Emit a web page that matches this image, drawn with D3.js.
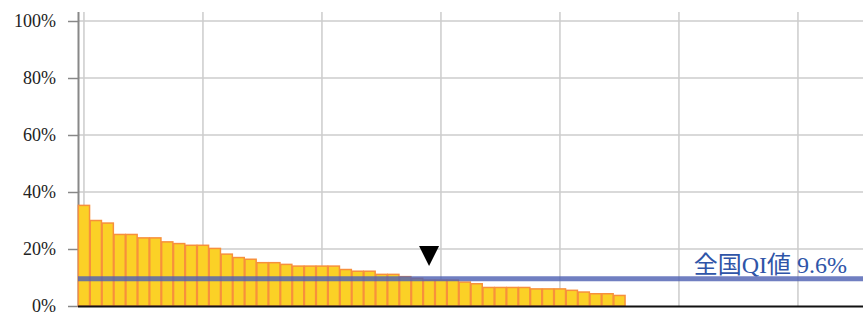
<!DOCTYPE html>
<html>
<head>
<meta charset="utf-8">
<script src="https://cdn.jsdelivr.net/npm/d3@7/dist/d3.min.js"></script>
<style>
  html, body { margin: 0; padding: 0; background: #fff; }
  svg { display: block; }
</style>
</head>
<body>
<svg id="chart" width="863" height="312"></svg>
<script>
// ---- data ----
const categories = d3.range(1, 47).map(String);
const values = [35.3, 30.0, 29.1, 25.1, 25.1, 23.9, 23.9, 22.5, 21.9, 21.3,
                21.3, 20.2, 18.2, 17.0, 16.4, 15.2, 15.2, 14.6, 14.0, 14.0,
                14.0, 14.0, 12.8, 12.2, 12.2, 11.1, 11.1, 10.3, 9.7, 9.1,
                9.1, 9.1, 8.4, 7.8, 6.5, 6.5, 6.5, 6.5, 6.0, 6.0,
                6.0, 5.5, 4.9, 4.3, 4.3, 3.7];
const yTicks = [0, 20, 40, 60, 80, 100];
const xGridSlots = [0, 10, 20, 30, 40, 50, 60];
const totalSlots = 66;
const nationalValue = 9.6;
const nationalLabel = "全国QI値 9.6%";
const markedIndex = 29;

// ---- layout ----
const svg = d3.select("#chart");
const mLeft = 78, mRight = 863.4, mTop = 12, mBottom = 306;

const x = d3.scaleBand()
  .domain(d3.range(totalSlots))
  .range([mLeft, mRight])
  .paddingInner(0.06)
  .paddingOuter(0.03);
const y = d3.scaleLinear().domain([0, 100]).range([mBottom, 21]);
const cx = i => x(i) + x.bandwidth() / 2;

// horizontal grid
svg.append("g").selectAll("line")
  .data(yTicks.filter(d => d > 0))
  .join("line")
  .attr("x1", mLeft).attr("x2", 863)
  .attr("y1", d => y(d)).attr("y2", d => y(d))
  .attr("stroke", "#cccccc").attr("stroke-width", 1.5);

// vertical grid
svg.append("g").selectAll("line")
  .data(xGridSlots)
  .join("line")
  .attr("x1", d => cx(d)).attr("x2", d => cx(d))
  .attr("y1", mTop).attr("y2", mBottom)
  .attr("stroke", "#cccccc").attr("stroke-width", 1.5);

// y axis
const yAxis = d3.axisLeft(y)
  .tickValues(yTicks)
  .tickFormat(d => d + "%")
  .tickSize(10)
  .tickPadding(12);
const gy = svg.append("g")
  .attr("transform", `translate(${mLeft},0)`)
  .call(yAxis);
gy.select(".domain").remove();
gy.selectAll(".tick line").attr("stroke", "#888").attr("stroke-width", 1.5);
gy.selectAll(".tick text")
  .attr("fill", "#222")
  .style("font-family", "'Liberation Serif', 'Times New Roman', serif")
  .style("font-size", "18px");
svg.append("line")
  .attr("x1", mLeft + 0.5).attr("x2", mLeft + 0.5)
  .attr("y1", mTop).attr("y2", mBottom)
  .attr("stroke", "#888").attr("stroke-width", 2);

// bars
svg.append("g").selectAll("rect")
  .data(values)
  .join("rect")
  .attr("x", (d, i) => x(i))
  .attr("width", x.bandwidth())
  .attr("y", d => y(d))
  .attr("height", d => y(0) - y(d))
  .attr("fill", "#fbd126")
  .attr("stroke", "#f7903c")
  .attr("stroke-width", 1.5);

// bottom axis line
svg.append("line")
  .attr("x1", mLeft).attr("x2", 863)
  .attr("y1", mBottom + 0.5).attr("y2", mBottom + 0.5)
  .attr("stroke", "#111").attr("stroke-width", 2);

// national reference line
svg.append("line")
  .attr("x1", mLeft).attr("x2", 863)
  .attr("y1", y(nationalValue)).attr("y2", y(nationalValue))
  .attr("stroke", "#5163b3").attr("stroke-opacity", 0.82)
  .attr("stroke-width", 5);

svg.append("text")
  .attr("x", 847).attr("y", y(nationalValue) - 6)
  .attr("text-anchor", "end")
  .attr("fill", "#2f55a8")
  .style("font-family", "'Liberation Serif', 'Noto Sans CJK JP', serif")
  .style("font-size", "24px")
  .text(nationalLabel);

// marker triangle above marked bar
const mx = cx(markedIndex), mTip = 266;
svg.append("path")
  .attr("d", `M${mx - 10},${mTip - 20}L${mx + 10},${mTip - 20}L${mx},${mTip}Z`)
  .attr("fill", "#000");
</script>
</body>
</html>
